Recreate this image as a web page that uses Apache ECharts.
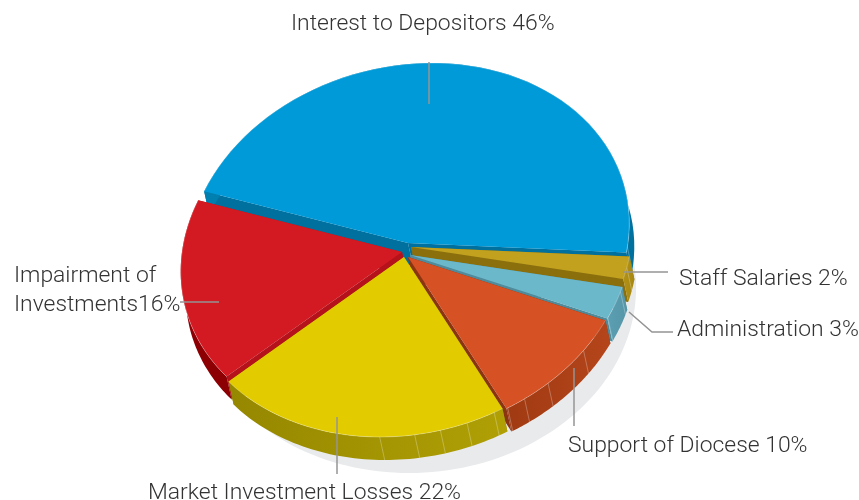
<!DOCTYPE html>
<html><head><meta charset="utf-8">
<style>html,body{margin:0;padding:0;background:#fff}#c{width:859px;height:500px}</style>
<script src="https://cdn.jsdelivr.net/npm/echarts@6/dist/echarts.min.js"></script>
</head><body><div id="c"></div>
<script>
const categories = ['Interest to Depositors','Impairment of Investments','Market Investment Losses','Support of Diocese','Administration','Staff Salaries'];
const labels = ['Interest to Depositors 46%','Impairment of\nInvestments16%','Market Investment Losses 22%','Support of Diocese 10%','Administration 3%','Staff Salaries 2%'];
const labelledPercent = [46,16,22,10,3,2];
// angular shares as measured on the picture (the printed labels are rounded)
const shares = [46.2,16.8,21.9,10.2,2.9,2];

const topColors  = ['#009ad9','#d31a22','#e2cc00','#d65124','#6cb8cb','#c2a11f'];
const cutColors  = ['#00719f','#b5121b','#9a8a00','#8a3410','#4f8b9b','#8a6f0c'];
const wallFrom   = ['#00719f','#8c0004','#958700','#a03a12','#5595a8','#a88810'];
const wallTo     = ['#0080b0','#8c0004','#b0a005','#b5451b','#5c9fb2','#b09015'];
const seams      = [[.01],[],[.585,.70,.785,.875,.97],[.01,.146,.35,.71],[.02,.85],[.5]];
const drawOrder  = [0,5,4,1,3,2];

const START = -3, RX = 220, RY = 180, SHEAR = 24, CX = 408, CY = 250, DX = 5, DY = 23;
const apexShift = [[0,-7],[-6,2],[-4,7],[0,7],[2,5],[3,-3]];
const SHADOW = {x:415,y:293,rx:221,ry:180,shear:6};

const total = shares.reduce((a,b)=>a+b,0);
const ranges = []; let acc = START;
shares.forEach(s=>{const a=acc; acc+=s/total*360; ranges.push([a,acc]);});

function rim(i,deg,ox,oy){
  const r=deg*Math.PI/180, c=Math.cos(r), s=Math.sin(r);
  return [CX+apexShift[i][0]+RX*c+SHEAR*s+(ox||0), CY+apexShift[i][1]-RY*s+(oy||0)];
}
function arc(i,ox,oy){
  const [a,b]=ranges[i],p=[];
  for(let k=0;k<=60;k++)p.push(rim(i,a+(b-a)*k/60,ox,oy));
  return p;
}
function shadowPoints(){
  const p=[];
  for(let k=0;k<180;k++){const r=k*2*Math.PI/180;p.push([SHADOW.x+SHADOW.rx*Math.cos(r)+SHADOW.shear*Math.sin(r),SHADOW.y-SHADOW.ry*Math.sin(r)]);}
  return p;
}
function renderSlice(params,api){
  const i=api.value(0), o=api.value(1)*10+10;
  const apex=[CX+apexShift[i][0],CY+apexShift[i][1]];
  const top=arc(i,0,0), low=arc(i,DX,DY), kids=[];
  if(o===10){
    kids.push({type:'polygon',z2:0,shape:{points:shadowPoints()},style:{fill:'#e9eaec'}});
  }
  const face=(a,b)=>({type:'polygon',z2:o,shape:{points:[a,b,[b[0]+DX,b[1]+DY],[a[0]+DX,a[1]+DY]]},style:{fill:cutColors[i]}});
  kids.push(face(apex,top[0]),face(apex,top[60]));
  kids.push({type:'polygon',z2:o+1,shape:{points:top.concat(low.slice().reverse())},
    style:{fill:new echarts.graphic.LinearGradient(0,0,1,0,[{offset:0,color:i===2||i===3?wallFrom[i]:wallTo[i]},{offset:1,color:i===2||i===3?wallTo[i]:wallFrom[i]}])}});
  seams[i].forEach(f=>{
    const [a,b]=ranges[i], d=a+(b-a)*f, q=rim(i,d);
    kids.push({type:'line',z2:o+2,shape:{x1:q[0],y1:q[1],x2:q[0]+DX,y2:q[1]+DY},style:{stroke:'rgba(255,255,255,.35)',lineWidth:.8}});
  });
  kids.push({type:'polygon',z2:o+3,shape:{points:[apex].concat(top)},style:{fill:topColors[i]}});
  kids.push({type:'polyline',z2:o+4,shape:{points:top},style:{stroke:'rgba(255,255,255,.35)',lineWidth:.8,fill:null}});
  return {type:'group',children:kids};
}
const LINE='#949494', FONT={fontFamily:'Roboto,"Liberation Sans",sans-serif',fontWeight:300,fontSize:22.9,fill:'#333'};
const notes=[
 {i:0,x:291,y:24.5,line:[[429,62],[429,104]]},
 {i:1,x:14,y:291,line:[[180,302],[219,302]]},
 {i:2,x:148,y:493,line:[[337,417],[337,474]]},
 {i:3,x:568,y:446,line:[[574,368],[574,426]]},
 {i:4,x:677,y:330,line:[[629,312],[652,332],[673,332]]},
 {i:5,x:679,y:279.5,line:[[623,272],[668,272]]}
];
const graphics=[];
notes.forEach(n=>{
  graphics.push({type:'polyline',z:50,shape:{points:n.line},style:{stroke:LINE,lineWidth:1.5,fill:null}});
  graphics.push({type:'text',z:50,x:n.x,y:n.y,style:Object.assign({text:labels[n.i],verticalAlign:'middle',lineHeight:29},FONT)});
});
const chart=echarts.init(document.getElementById('c'),null,{renderer:'canvas'});
chart.setOption({
  animation:false,
  graphic:graphics,
  series:[{type:'custom',coordinateSystem:'none',renderItem:renderSlice,silent:true,clip:false,
    data:drawOrder.map((d,k)=>({name:categories[d],value:[d,k,shares[d]]}))}]
});
</script></body></html>
